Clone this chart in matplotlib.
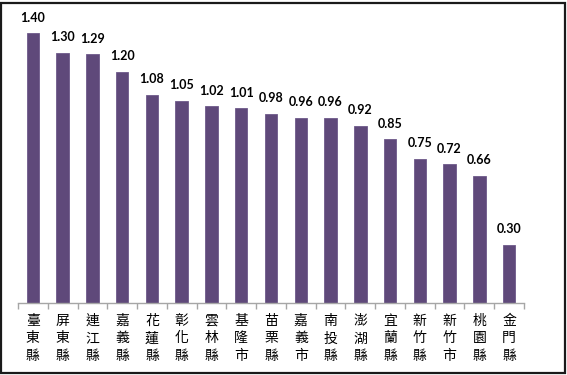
import matplotlib
matplotlib.use("Agg")
import matplotlib.pyplot as plt
from matplotlib.patches import Rectangle

categories = ["臺東縣", "屏東縣", "連江縣", "嘉義縣", "花蓮縣", "彰化縣", "雲林縣", "基隆市",
              "苗栗縣", "嘉義市", "南投縣", "澎湖縣", "宜蘭縣", "新竹縣", "新竹市", "桃園縣", "金門縣"]
values = [1.40, 1.30, 1.29, 1.20, 1.08, 1.05, 1.02, 1.01, 0.98, 0.96, 0.96, 0.92, 0.85, 0.75, 0.72, 0.66, 0.30]

W, H = 567, 375
fig = plt.figure(figsize=(W / 100, H / 100), dpi=100)
fig.patch.set_facecolor("white")

left, right, bottom, top = 18, 524, 303, 14
ax = fig.add_axes([left / W, 1 - bottom / H, (right - left) / W, (bottom - top) / H])

x = list(range(len(categories)))
ax.bar(x, values, width=0.42, color="#5F497A", edgecolor="#6E5A8A", linewidth=0.6)
ax.set_xlim(-0.5, len(categories) - 0.5)
ax.set_ylim(0, 1.5)

for xi, v in zip(x, values):
    ax.annotate(f"{v:.2f}", (xi, v), xytext=(0, 7), textcoords="offset points",
                ha="center", va="bottom", fontsize=9, fontweight="bold",
                family=["Lato", "DejaVu Sans"], color="black")

for s in ["top", "right", "left"]:
    ax.spines[s].set_visible(False)
ax.spines["bottom"].set_color("#A6A6A6")
ax.spines["bottom"].set_linewidth(1.0)
ax.set_yticks([])
ax.set_xticks([i - 0.5 for i in range(len(categories) + 1)])
ax.set_xticklabels([])
ax.tick_params(axis="x", direction="out", length=4, color="#A6A6A6", width=1)

for xi, c in zip(x, categories):
    ax.text(xi, -0.055, "\n".join(c), ha="center", va="top", fontsize=10,
            family=["Noto Sans CJK TC", "DejaVu Sans"], linespacing=1.35,
            transform=ax.transData, color="black")

fig.patches.append(Rectangle((0.5 / W, 2.5 / H), (565 - 1) / W, (373 - 3) / H,
                             transform=fig.transFigure, fill=False,
                             edgecolor="#1a1a1a", linewidth=1.6))

fig.savefig("out.png", dpi=100, facecolor="white")
